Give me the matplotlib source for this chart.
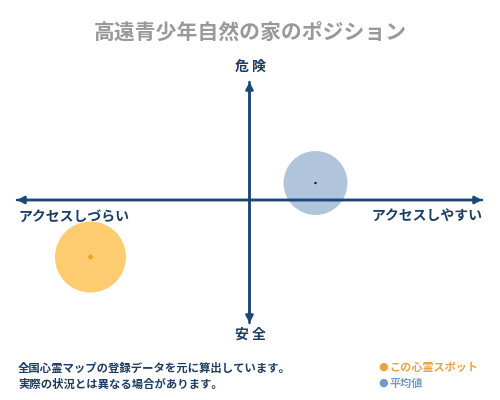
import matplotlib
matplotlib.use("Agg")
import matplotlib.pyplot as plt

plt.rcParams['font.family'] = ['Noto Sans CJK JP', 'DejaVu Sans']

title = "高遠青少年自然の家のポジション"
axis_top = "危 険"
axis_bottom = "安 全"
axis_left = "アクセスしづらい"
axis_right = "アクセスしやすい"
series_names = ["この心霊スポット", "平均値"]
x_values = [-0.684, 0.284]
y_values = [-0.483, 0.144]
notes = ["全国心霊マップの登録データを元に算出しています。",
         "実際の状況とは異なる場合があります。"]

W, H = 500, 400
fig = plt.figure(figsize=(5, 4), dpi=100)
fig.patch.set_facecolor("white")

# axes box in pixel terms: x 17..482, y 82..323
ax = fig.add_axes([17 / W, 1 - 323 / H, 465 / W, 241 / H])
ax.set_xlim(-1, 1)
ax.set_ylim(-123 / 118, 1)
ax.axis("off")

navy = "#1B4677"
arrow_kw = dict(arrowstyle="-|>,head_length=0.42,head_width=0.22", color=navy,
                lw=1.8, shrinkA=0, shrinkB=0)
ax.annotate("", xy=(1, 0), xytext=(-1, 0), arrowprops=arrow_kw, zorder=3)
ax.annotate("", xy=(-1, 0), xytext=(1, 0), arrowprops=arrow_kw, zorder=3)
ax.annotate("", xy=(0, 1), xytext=(0, -123 / 118), arrowprops=arrow_kw, zorder=3)
ax.annotate("", xy=(0, -123 / 118), xytext=(0, 1), arrowprops=arrow_kw, zorder=3)

fills = ["#FDCB70", "#B0C4DC"]
centers = ["#F0A020", "#1a1a1a"]
sizes = [2611, 2120]
center_markers = ["D", "o"]
center_sizes = [9, 3]
for i in range(2):
    ax.scatter([x_values[i]], [y_values[i]], s=sizes[i], color=fills[i],
               edgecolors="none", zorder=2)
    ax.scatter([x_values[i]], [y_values[i]], s=center_sizes[i], color=centers[i],
               marker=center_markers[i], edgecolors="none", zorder=4)

label_color = "#1C3D63"
fig.text(0.5, 1 - 32 / H, title, ha="center", va="center", fontsize=15,
         color="#999999", fontweight="bold")
fig.text(250 / W, 1 - 67 / H, axis_top, ha="center", va="center", fontsize=10,
         color=label_color, fontweight="bold")
fig.text(250 / W, 1 - 335 / H, axis_bottom, ha="center", va="center", fontsize=10,
         color=label_color, fontweight="bold")
fig.text(18 / W, 1 - 217 / H, axis_left, ha="left", va="center", fontsize=10,
         color=label_color, fontweight="bold")
fig.text(482 / W, 1 - 217 / H, axis_right, ha="right", va="center", fontsize=10,
         color=label_color, fontweight="bold")

fig.text(18 / W, 1 - 368 / H, notes[0], ha="left", va="center", fontsize=8.2,
         color=label_color, fontweight="bold")
fig.text(18 / W, 1 - 384 / H, notes[1], ha="left", va="center", fontsize=8.2,
         color=label_color, fontweight="bold")

legend_dot = ["#F0A040", "#6F9AC4"]
legend_text = ["#E8A24A", "#7A9CC2"]
for i, ypx in enumerate([367, 383]):
    fig.text(383 / W, 1 - ypx / H, "●", ha="center", va="center", fontsize=8,
             color=legend_dot[i], family="DejaVu Sans")
    fig.text(389 / W, 1 - ypx / H, series_names[i], ha="left", va="center",
             fontsize=8, color=legend_text[i], fontweight="bold")

fig.savefig("out.png", dpi=100, facecolor="white")
